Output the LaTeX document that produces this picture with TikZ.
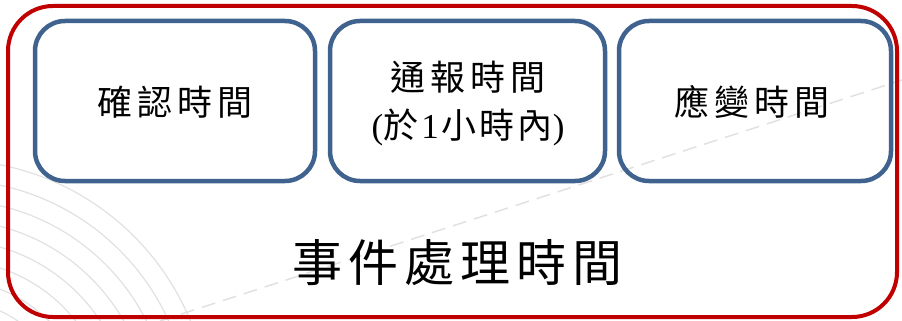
\documentclass[tikz,border=0pt]{standalone}
\usepackage{fontspec}
\setmainfont{Liberation Serif}
\newfontfamily\cjk{Noto Sans CJK TC}
\newcommand{\cs}[1]{\hspace{#1}}
\definecolor{outerred}{RGB}{192,0,0}
\definecolor{boxblue}{RGB}{64,98,142}
\definecolor{decogray}{RGB}{225,225,225}
\begin{document}
\begin{tikzpicture}[x=1pt,y=-1pt,
  stagebox/.style={draw=boxblue,line width=4.5pt,rounded corners=30pt,fill=none},
  outerbox/.style={draw=outerred,line width=4pt,rounded corners=45pt},
  lbl/.style={font=\cjk\fontsize{35}{42}\selectfont,align=center,inner sep=0pt},
  biglbl/.style={font=\cjk\fontsize{50}{60}\selectfont,inner sep=0pt}]
\useasboundingbox (0,0) rectangle (902,321);
\begin{scope}
\clip (0,0) rectangle (902,321);
\foreach \r in {120,140,...,260}
  \draw[decogray,line width=1.2pt] (-50,420) circle[radius=\r];
\draw[decogray,line width=1.5pt,dash pattern=on 14pt off 8pt] (160,321) -- (902,80);
\end{scope}
\draw[outerbox] (8,6) rectangle (897,317);
\draw[stagebox] (35,21) rectangle (315,181);
\draw[stagebox] (330,21) rectangle (605,181);
\draw[stagebox] (619,21) rectangle (891,181);
\node[lbl] (a) at (175,102) {確\cs{5pt}認\cs{5pt}時\cs{5pt}間};
\node[lbl] (b) at (468,104) {通\cs{5pt}報\cs{5pt}時\cs{5pt}間\\[6pt]{\rmfamily(}於\cs{3pt}{\rmfamily 1}\cs{3pt}小\cs{3pt}時\cs{3pt}內{\rmfamily)}};
\node[lbl] (c) at (752,102) {應\cs{5pt}變\cs{5pt}時\cs{5pt}間};
\node[biglbl] (d) at (457,263) {事\cs{6pt}件\cs{6pt}處\cs{6pt}理\cs{6pt}時\cs{6pt}間};
\end{tikzpicture}
\end{document}
